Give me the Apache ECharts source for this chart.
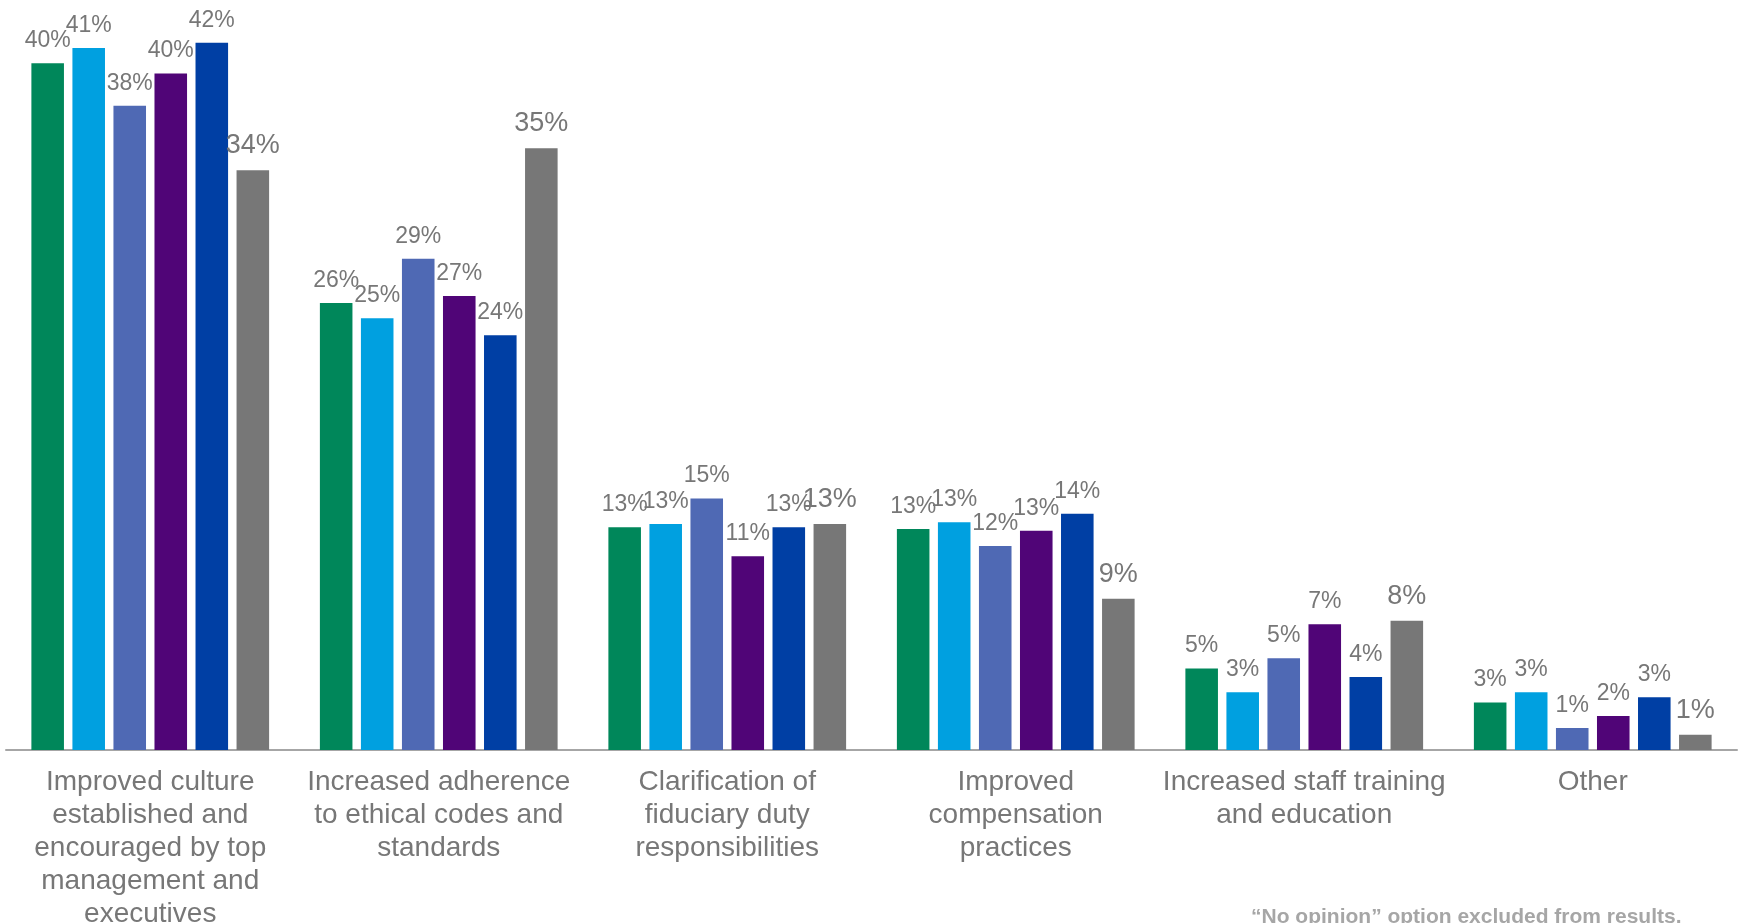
<!DOCTYPE html>
<html>
<head>
<meta charset="utf-8">
<title>Improvements</title>
<script src="https://cdn.jsdelivr.net/npm/echarts@6/dist/echarts.min.js"></script>
<style>
  html, body { margin: 0; padding: 0; background: #ffffff; }
  #chart { width: 1739px; height: 923px; }
</style>
</head>
<body>
<div id="chart"></div>
<script>
// Response categories along the x axis
const categories = [
  'Improved culture\nestablished and\nencouraged by top\nmanagement and\nexecutives',
  'Increased adherence\nto ethical codes and\nstandards',
  'Clarification of\nfiduciary duty\nresponsibilities',
  'Improved\ncompensation\npractices',
  'Increased staff training\nand education',
  'Other'
];

// Share of respondents (%) per series, one value per category
const series1 = [40.4, 26.3, 13.1, 13.0, 4.8, 2.8];
const series2 = [41.3, 25.4, 13.3, 13.4, 3.4, 3.4];
const series3 = [37.9, 28.9, 14.8, 12.0, 5.4, 1.3];
const series4 = [39.8, 26.7, 11.4, 12.9, 7.4, 2.0];
const series5 = [41.6, 24.4, 13.1, 13.9, 4.3, 3.1];
const series6 = [34.1, 35.4, 13.3, 8.9, 7.6, 0.9];

const seriesNames = ['Series 1', 'Series 2', 'Series 3', 'Series 4', 'Series 5', 'Series 6'];
const seriesData = [series1, series2, series3, series4, series5, series6];
const colors = ['#00875a', '#00a0e0', '#4f69b4', '#500577', '#003fa4', '#777777'];
const labelSizes = [23, 23, 23, 23, 23, 27];

const footnote = '\u201CNo opinion\u201D option excluded from results.';

const FONT = '"Liberation Sans", Arial, Helvetica, sans-serif';

const chart = echarts.init(document.getElementById('chart'), null, { renderer: 'canvas' });

chart.setOption({
  animation: false,
  backgroundColor: '#ffffff',
  grid: {
    left: 6, right: 2, top: 2, bottom: 173,
    containLabel: false,
    outerBoundsMode: 'none'
  },
  xAxis: {
    type: 'category',
    data: categories,
    axisTick: { show: false },
    axisLine: { show: true, lineStyle: { color: '#a6a6a6', width: 2 } },
    axisLabel: {
      interval: 0,
      margin: 16,
      color: '#777777',
      fontFamily: FONT,
      fontSize: 28,
      lineHeight: 33,
      align: 'center'
    }
  },
  yAxis: {
    type: 'value',
    min: 0,
    max: 44,
    show: false,
    splitLine: { show: false }
  },
  series: seriesData.map((d, i) => ({
    name: seriesNames[i],
    type: 'bar',
    data: d,
    barGap: '26%',
    barCategoryGap: '17.6%',
    itemStyle: { color: colors[i] },
    label: {
      show: true,
      position: 'top',
      distance: 11,
      color: '#777777',
      fontFamily: FONT,
      fontSize: labelSizes[i],
      formatter: p => Math.round(p.value) + '%'
    }
  })),
  graphic: [{
    type: 'text',
    left: 1251,
    top: 907,
    style: {
      text: footnote,
      fill: '#a6a6a6',
      font: 'bold 21px ' + FONT
    }
  }]
});
</script>
</body>
</html>
